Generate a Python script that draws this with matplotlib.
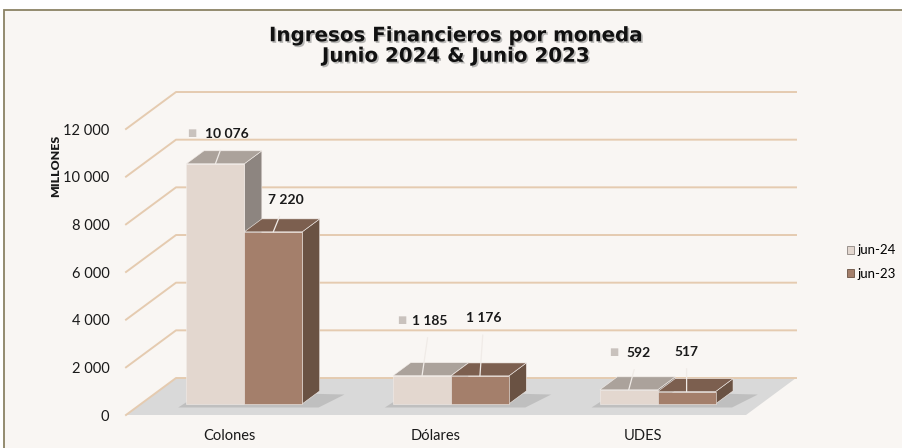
import matplotlib.pyplot as plt
import matplotlib.patheffects as pe
from matplotlib.patches import Polygon, Rectangle, Patch

# Data
categories = ['Colones', 'Dólares', 'UDES']
series = ['jun-24', 'jun-23']
jun24 = [10076, 1185, 592]
jun23 = [7220, 1176, 517]
labels24 = ['10 076', '1 185', '592']
labels23 = ['7 220', '1 176', '517']
yticks = [0, 2000, 4000, 6000, 8000, 10000, 12000]
yticklabels = ['0', '2 000', '4 000', '6 000', '8 000', '10 000', '12 000']

# colours: front, top, side
col24 = ('#e3d7cf', '#aba29b', '#8d8580')
col23 = ('#a47f6b', '#7c5f4f', '#6a5243')
bg = '#f9f6f3'
grid_c = '#e5cbb0'

# fake 3D geometry (depth of the floor in data units)
DX, DY = 0.242, 1552
F0, F1 = 0.30, 0.65   # bar front / back depth fraction
W = 0.28              # bar width

plt.rcParams['font.family'] = ['Lato', 'DejaVu Sans']

fig = plt.figure(figsize=(9.03, 4.48), dpi=100, facecolor='white')
frame = Rectangle((4 / 903, -0.05), 1.1, (448 - 10) / 448 + 0.05,
                  transform=fig.transFigure, facecolor=bg,
                  edgecolor='#8b8264', lw=1.3, zorder=-10)
fig.patches.append(frame)

ax = fig.add_axes([126 / 903, 33 / 448, 620 / 903, 286 / 448])
ax.set_facecolor('none')
ax.set_xlim(-0.5, 2.5)
ax.set_ylim(0, 12000)
for s in ax.spines.values():
    s.set_visible(False)

# floor
x0, x1 = -0.5, len(categories) - 0.5
ax.add_patch(Polygon([(x0, 0), (x1, 0), (x1 + DX, DY), (x0 + DX, DY)],
                     closed=True, facecolor='#d9d9d9', edgecolor='none',
                     clip_on=False, zorder=1))

# gridlines: diagonal on the left wall + back wall line
for v in yticks:
    ax.plot([x0, x0 + DX, x1 + DX], [v, v + DY, v + DY], color=grid_c,
            lw=1.4, clip_on=False, zorder=2)


def bar3d(xl, v, cols, z):
    xr = xl + W
    fx, fy = F0 * DX, F0 * DY
    bx, by = F1 * DX, F1 * DY
    front = [(xl + fx, fy), (xr + fx, fy), (xr + fx, fy + v), (xl + fx, fy + v)]
    top = [(xl + fx, fy + v), (xr + fx, fy + v), (xr + bx, by + v), (xl + bx, by + v)]
    side = [(xr + fx, fy), (xr + bx, by), (xr + bx, by + v), (xr + fx, fy + v)]
    for pts, c in ((side, cols[2]), (top, cols[1]), (front, cols[0])):
        ax.add_patch(Polygon(pts, closed=True, facecolor=c, edgecolor='#f2ece8',
                             lw=0.4, clip_on=False, zorder=z))
    return (xl + W / 2 + fx, fy + v)


def shadow(xl):
    xr = xl + 2 * W
    pts = [(xl + F0 * DX - 0.04, F0 * DY - 150), (xr + F0 * DX + 0.08, F0 * DY - 150),
           (xr + F1 * DX + 0.12, F1 * DY - 150), (xl + F1 * DX, F1 * DY)]
    ax.add_patch(Polygon(pts, closed=True, facecolor='#b5b5b5', edgecolor='none',
                         alpha=0.7, clip_on=False, zorder=2))


label_off24 = [(11, 30), (8, 55), (10, 37)]
label_off23 = [(13, 32), (4, 58), (0, 40)]
key_off = [-35, -28, -25]

for i, cat in enumerate(categories):
    shadow(i - W)
    t24 = bar3d(i - W, jun24[i], col24, 3)
    t23 = bar3d(i, jun23[i], col23, 4)
    for tip, lab, off in ((t24, labels24[i], label_off24[i]),
                          (t23, labels23[i], label_off23[i])):
        ax.annotate(lab, xy=tip, xytext=off, textcoords='offset pixels',
                    ha='center', va='center', fontsize=10, fontweight='bold',
                    color='#1a1a1a', zorder=6,
                    arrowprops=dict(arrowstyle='-', color='#f0ebe7', lw=0.9,
                                    shrinkA=6, shrinkB=0))
    # small legend key in front of jun-24 label
    ax.annotate('\u25a0', xy=t24,
                xytext=(label_off24[i][0] + key_off[i], label_off24[i][1]),
                textcoords='offset pixels', ha='center', va='center',
                fontsize=7, color='#c9c2bd', zorder=6)

ax.set_xticks(range(len(categories)))
ax.set_xticklabels(categories, fontsize=10.5, color='#1a1a1a')
ax.set_yticks(yticks)
ax.set_yticklabels(yticklabels, fontsize=10.5, color='#1a1a1a')
ax.tick_params(axis='x', length=0, pad=10)
ax.tick_params(axis='y', length=0, pad=12)

fig.text(56 / 903, 1 - 166 / 448, 'MILLONES', rotation=90, ha='center', va='center',
         fontsize=8.8, fontweight='heavy', color='#1a1a1a')

# legend
handles = [Patch(facecolor=col24[0], edgecolor=col24[2], lw=0.6),
           Patch(facecolor=col23[0], edgecolor=col23[2], lw=0.6)]
fig.legend(handles, series, loc='center left', bbox_to_anchor=(840 / 903, 1 - 262 / 448),
           frameon=False, fontsize=9.5, handlelength=0.55, handleheight=0.55,
           handletextpad=0.3, labelspacing=0.85, borderpad=0)

# title with soft shadow
title = 'Ingresos Financieros por moneda\nJunio 2024 & Junio 2023'
fig.text(456 / 903, 1 - 46 / 448, title, ha='center', va='center',
         fontsize=14.3, fontweight='bold', family='DejaVu Sans', color='#111111',
         linespacing=1.1,
         path_effects=[pe.SimplePatchShadow(offset=(1.2, -1.2), shadow_rgbFace='#777777',
                                            alpha=0.5), pe.Normal()])

fig.savefig('out.png', dpi=100, facecolor=fig.get_facecolor())
